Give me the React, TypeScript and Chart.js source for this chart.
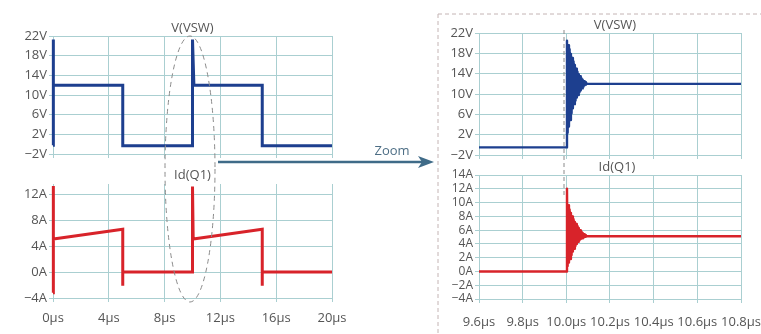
import React, { useEffect, useRef } from "react";
import { Chart, registerables } from "chart.js";

Chart.register(...registerables);

// ---------- tick values and labels ----------
const wideTimeTicks = [0, 4, 8, 12, 16, 20];
const wideTimeLabels = ["0µs", "4µs", "8µs", "12µs", "16µs", "20µs"];
const zoomTimeTicks = [9.6, 9.8, 10.0, 10.2, 10.4, 10.6, 10.8];
const zoomTimeLabels = ["9.6µs", "9.8µs", "10.0µs", "10.2µs", "10.4µs", "10.6µs", "10.8µs"];
const voltTicks = [-2, 2, 6, 10, 14, 18, 22];
const voltLabels = ["−2V", "2V", "6V", "10V", "14V", "18V", "22V"];
const ampWideTicks = [-4, 0, 4, 8, 12];
const ampWideLabels = ["−4A", "0A", "4A", "8A", "12A"];
const ampZoomTicks = [-4, -2, 0, 2, 4, 6, 8, 10, 12, 14];
const ampZoomLabels = ["−4A", "−2A", "0A", "2A", "4A", "6A", "8A", "10A", "12A", "14A"];

// ---------- wide view: V(VSW) ----------
const vswTime = [0, 0, 0.05, 5, 5, 10, 10, 10.1, 15, 15, 20];
const vswVolts = [-0.2, 21.3, 12, 12, -0.3, -0.3, 21.3, 12, 12, -0.3, -0.3];

// ---------- wide view: Id(Q1) ----------
const idTime = [0, 0, 0.05, 5, 5, 5, 10, 10, 10.05, 15, 15, 15, 20];
const idAmps = [-3.2, 13.3, 5.1, 6.6, -2.1, 0, 0, 13.2, 5.1, 6.6, -2.1, 0, 0];

// ---------- zoomed view: V(VSW) ----------
const zoomTime = [
  9.6, 10.0,
  10.003, 10.006, 10.009, 10.012, 10.015, 10.018, 10.021, 10.024, 10.027, 10.03,
  10.033, 10.036, 10.039, 10.042, 10.045, 10.048, 10.051, 10.054, 10.057, 10.06,
  10.063, 10.066, 10.069, 10.072, 10.075, 10.078, 10.081, 10.084, 10.087, 10.09,
  10.093, 10.096,
  10.8,
];
const zoomVolts = [
  -0.5, -0.5,
  20.5, 2.4, 19.6, 3.6, 18.8, 4.9, 17.9, 6.2, 17.1, 7.2,
  16.4, 8.0, 15.7, 8.7, 15.0, 9.3, 14.4, 9.8, 13.9, 10.3,
  13.5, 10.7, 13.1, 11.1, 12.8, 11.4, 12.5, 11.7, 12.3, 11.85,
  12.1, 12.0,
  12.0,
];
// ---------- zoomed view: Id(Q1) ----------
const zoomAmps = [
  0, 0,
  12.0, 0.8, 9.6, 1.3, 9.0, 1.8, 8.5, 2.4, 8.0, 2.9,
  7.6, 3.3, 7.2, 3.7, 6.9, 4.0, 6.6, 4.3, 6.3, 4.5,
  6.0, 4.7, 5.8, 4.8, 5.6, 4.9, 5.4, 5.0, 5.25, 5.05,
  5.15, 5.1,
  5.1,
];

const BLUE = "#1d3f8f";
const RED = "#d8232a";
const GRID = "#aacfd1";
const TEXT = "#555555";
const FONT = "'Open Sans', 'DejaVu Sans', sans-serif";

const panelTitlePlugin = {
  id: "panelTitle",
  afterDraw(chart: any, _args: any, opts: any) {
    const { ctx, chartArea } = chart;
    ctx.save();
    ctx.font = `13px ${FONT}`;
    ctx.fillStyle = TEXT;
    ctx.textAlign = "center";
    ctx.textBaseline = "middle";
    ctx.fillText(opts.text, (chartArea.left + chartArea.right) / 2 + (opts.dx || 0), chartArea.top - opts.dy);
    ctx.restore();
  },
};

type PanelProps = {
  left: number;
  top: number;
  width: number;
  height: number;
  padTop: number;
  padRight: number;
  yWidth: number;
  xHeight: number;
  xPad: number;
  xs: number[];
  ys: number[];
  color: string;
  lineWidth: number;
  join: string;
  xMin: number;
  xMax: number;
  xTicks: number[];
  xLabels: string[];
  showX: boolean;
  yMin: number;
  yMax: number;
  yTicks: number[];
  yLabels: string[];
  title: string;
  titleDx: number;
  titleDy: number;
  yFont: number;
};

function Panel(p: PanelProps) {
  const ref = useRef<HTMLCanvasElement | null>(null);
  useEffect(() => {
    if (!ref.current) return;
    const gridCfg = { color: GRID, lineWidth: 1, drawTicks: true, tickLength: 4, tickColor: GRID };
    const chart = new Chart(ref.current, {
      type: "line",
      data: {
        datasets: [
          {
            data: p.xs.map((x, i) => ({ x, y: p.ys[i] })),
            borderColor: p.color,
            borderWidth: p.lineWidth,
            pointRadius: 0,
            tension: 0,
            fill: false,
            clip: false as any,
            borderJoinStyle: p.join,
          } as any,
        ],
      },
      options: {
        animation: false,
        responsive: false,
        maintainAspectRatio: false,
        events: [],
        layout: { padding: { top: p.padTop, right: p.padRight, bottom: 0, left: 0 } },
        plugins: {
          legend: { display: false },
          tooltip: { enabled: false },
          title: { display: false },
          panelTitle: { text: p.title, dx: p.titleDx, dy: p.titleDy },
        } as any,
        scales: {
          x: {
            type: "linear",
            min: p.xMin,
            max: p.xMax,
            afterBuildTicks: (s: any) => {
              s.ticks = p.xTicks.map((v) => ({ value: v }));
            },
            afterFit: (s: any) => {
              s.height = p.xHeight;
            },
            ticks: {
              display: p.showX,
              autoSkip: false,
              maxRotation: 0,
              padding: p.xPad,
              color: TEXT,
              font: { family: FONT, size: 13 },
              callback: (_v: any, i: number) => p.xLabels[i],
            },
            grid: gridCfg,
            border: { color: GRID, width: 1 },
          },
          y: {
            type: "linear",
            min: p.yMin,
            max: p.yMax,
            afterBuildTicks: (s: any) => {
              s.ticks = p.yTicks.map((v) => ({ value: v }));
            },
            afterFit: (s: any) => {
              s.width = p.yWidth;
            },
            ticks: {
              autoSkip: false,
              padding: 2,
              color: TEXT,
              font: { family: FONT, size: p.yFont, lineHeight: 1 },
              callback: (_v: any, i: number) => p.yLabels[i],
            },
            grid: gridCfg,
            border: { color: GRID, width: 1 },
          },
        },
      } as any,
      plugins: [panelTitlePlugin as any],
    });
    return () => chart.destroy();
  }, []);
  return (
    <div style={{ position: "absolute", left: p.left, top: p.top, width: p.width, height: p.height }}>
      <canvas ref={ref} width={p.width} height={p.height} style={{ width: p.width, height: p.height }} />
    </div>
  );
}

export default function App() {
  return (
    <div
      style={{
        position: "fixed",
        left: 0,
        top: 0,
        width: 761,
        height: 334,
        overflow: "hidden",
        background: "#ffffff",
      }}
    >
      <Panel
        left={0} top={0} width={340} height={164} padTop={36} padRight={8} yWidth={53} xHeight={10} xPad={5}
        xs={vswTime} ys={vswVolts} color={BLUE} lineWidth={3} join="miter"
        xMin={0} xMax={20} xTicks={wideTimeTicks} xLabels={wideTimeLabels} showX={false}
        yMin={-2} yMax={22} yTicks={voltTicks} yLabels={voltLabels}
        title="V(VSW)" titleDx={0} titleDy={8} yFont={13}
      />
      <Panel
        left={0} top={160} width={362} height={174} padTop={24} padRight={30} yWidth={53} xHeight={36} xPad={8}
        xs={idTime} ys={idAmps} color={RED} lineWidth={3} join="miter"
        xMin={0} xMax={20} xTicks={wideTimeTicks} xLabels={wideTimeLabels} showX={true}
        yMin={-4} yMax={13.6} yTicks={ampWideTicks} yLabels={ampWideLabels}
        title="Id(Q1)" titleDx={0} titleDy={9} yFont={13}
      />
      <Panel
        left={420} top={0} width={341} height={165} padTop={33} padRight={20} yWidth={59} xHeight={10} xPad={5}
        xs={zoomTime} ys={zoomVolts} color={BLUE} lineWidth={2.4} join="round"
        xMin={9.6} xMax={10.8} xTicks={zoomTimeTicks} xLabels={zoomTimeLabels} showX={false}
        yMin={-2} yMax={22} yTicks={voltTicks} yLabels={voltLabels}
        title="V(VSW)" titleDx={5} titleDy={8} yFont={13}
      />
      <Panel
        left={420} top={160} width={361} height={174} padTop={15} padRight={40} yWidth={59} xHeight={35} xPad={11}
        xs={zoomTime} ys={zoomAmps} color={RED} lineWidth={2.4} join="round"
        xMin={9.6} xMax={10.8} xTicks={zoomTimeTicks} xLabels={zoomTimeLabels} showX={true}
        yMin={-4} yMax={14} yTicks={ampZoomTicks} yLabels={ampZoomLabels}
        title="Id(Q1)" titleDx={7} titleDy={8} yFont={12}
      />
      <svg
        width={761}
        height={334}
        style={{ position: "absolute", left: 0, top: 0, pointerEvents: "none" }}
      >
        <line x1={438} y1={14} x2={761} y2={14} stroke="#c4b4b4" strokeWidth={1} strokeDasharray="4 3" />
        <line x1={438} y1={14} x2={438} y2={334} stroke="#c4b4b4" strokeWidth={1} strokeDasharray="4 3" />
        <ellipse cx={190} cy={169} rx={25} ry={133} fill="none" stroke="#8a8a8a" strokeWidth={1} strokeDasharray="5 4" />
        <line x1={564} y1={30} x2={564} y2={196} stroke="#8a8a8a" strokeWidth={1} strokeDasharray="4 3" />
        <line x1={218} y1={162} x2={427} y2={162} stroke="#3f6b88" strokeWidth={2.5} />
        <polygon points="418,156 434,162 418,168 422,162" fill="#3f6b88" />
        <text
          x={392}
          y={155}
          textAnchor="middle"
          fontFamily={FONT}
          fontSize={13}
          fill="#4d6e85"
        >
          Zoom
        </text>
      </svg>
    </div>
  );
}
